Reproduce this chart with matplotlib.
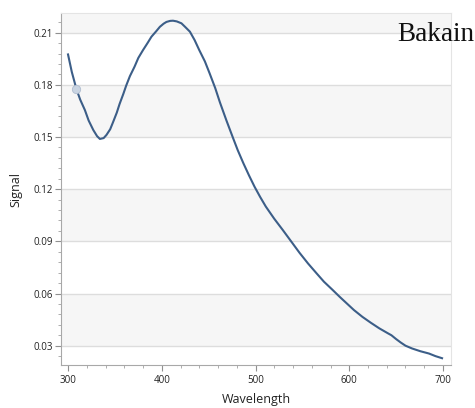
import numpy as np
import matplotlib.pyplot as plt
from matplotlib.ticker import MultipleLocator

# spectrum
wavelength = [300, 304, 309, 313, 318, 322, 327, 331, 334, 338, 341, 345, 348,
              352, 355, 359, 362, 366, 371, 375, 380, 385, 389, 394, 398, 402,
              405, 409, 412, 416, 421, 425, 430, 435, 440, 446, 451, 457, 462,
              469, 476, 481, 487, 493, 499, 505, 511, 520, 529, 538, 547, 556,
              565, 573, 582, 590, 597, 605, 614, 623, 632, 641, 645, 650, 655,
              660, 667, 676, 685, 692, 699]
signal = [0.1975, 0.1875, 0.1775, 0.1715, 0.1655, 0.1595, 0.1540, 0.1505,
          0.1489, 0.1494, 0.1512, 0.1545, 0.1585, 0.1640, 0.1690, 0.1748,
          0.1795, 0.1850, 0.1905, 0.1955, 0.2000, 0.2042, 0.2077, 0.2108,
          0.2134, 0.2152, 0.2162, 0.2168, 0.2169, 0.2165, 0.2154, 0.2133,
          0.2106, 0.2058, 0.2000, 0.1935, 0.1867, 0.1782, 0.1700, 0.1595,
          0.1495, 0.1425, 0.1350, 0.1280, 0.1214, 0.1155, 0.1100, 0.1030,
          0.0966, 0.0900, 0.0834, 0.0773, 0.0717, 0.0668, 0.0622, 0.0580,
          0.0545, 0.0505, 0.0466, 0.0432, 0.0400, 0.0372, 0.0360, 0.0338,
          0.0318, 0.0300, 0.0284, 0.0268, 0.0255, 0.0240, 0.0228]
marker_x = [309]
marker_y = [0.1775]

x_ticks = [300, 400, 500, 600, 700]
y_ticks = [0.03, 0.06, 0.09, 0.12, 0.15, 0.18, 0.21]
y_labels = ['0.03', '0.06', '0.09', '0.12', '0.15', '0.18', '0.21']

plt.rcParams['font.family'] = ['Open Sans', 'DejaVu Sans']

fig = plt.figure(figsize=(4.75, 4.08), dpi=100)
ax = fig.add_axes([0.1284, 0.1054, 0.821, 0.8626])

ylo, yhi = 0.0189, 0.2213
ax.set_xlim(292.5, 708.5)
ax.set_ylim(ylo, yhi)

# alternating bands between grid lines
edges = [ylo] + y_ticks + [yhi]
for i in range(len(edges) - 1):
    if i % 2 == 1:
        ax.axhspan(edges[i], edges[i + 1], color='#f6f6f6', lw=0, zorder=0)
for yv in y_ticks:
    ax.axhline(yv, color='#dddddd', lw=1, zorder=1)

ax.plot(wavelength, signal, color='#3c5e88', lw=1.5, zorder=3)
ax.plot(marker_x, marker_y, 'o', ms=6, mfc='#c9d4e2', mec='#b0bdd0',
        mew=0.6, zorder=4)

ax.set_xticks(x_ticks)
ax.set_yticks(y_ticks)
ax.set_yticklabels(y_labels)
ax.xaxis.set_minor_locator(MultipleLocator(20))
ax.yaxis.set_minor_locator(MultipleLocator(0.006))

for side in ['top', 'right']:
    ax.spines[side].set_color('#e4e4e4')
for side in ['left', 'bottom']:
    ax.spines[side].set_color('#a8a8a8')
ax.tick_params(which='major', length=4, color='#909090', labelsize=7,
               labelcolor='#222222')
ax.tick_params(axis='y', which='major', pad=2)
ax.tick_params(axis='x', which='major', pad=3)
ax.tick_params(which='minor', length=2, color='#a0a0a0')

ax.set_xlabel('Wavelength', fontsize=9, color='#222222', labelpad=5)
ax.set_ylabel('Signal', fontsize=9, color='#222222', labelpad=8)

fig.text(397 / 475, 1 - 41 / 408, 'Bakain', fontsize=19.5,
         family='Liberation Serif', color='#111111', ha='left', va='baseline')

fig.savefig('out.png', dpi=100)
